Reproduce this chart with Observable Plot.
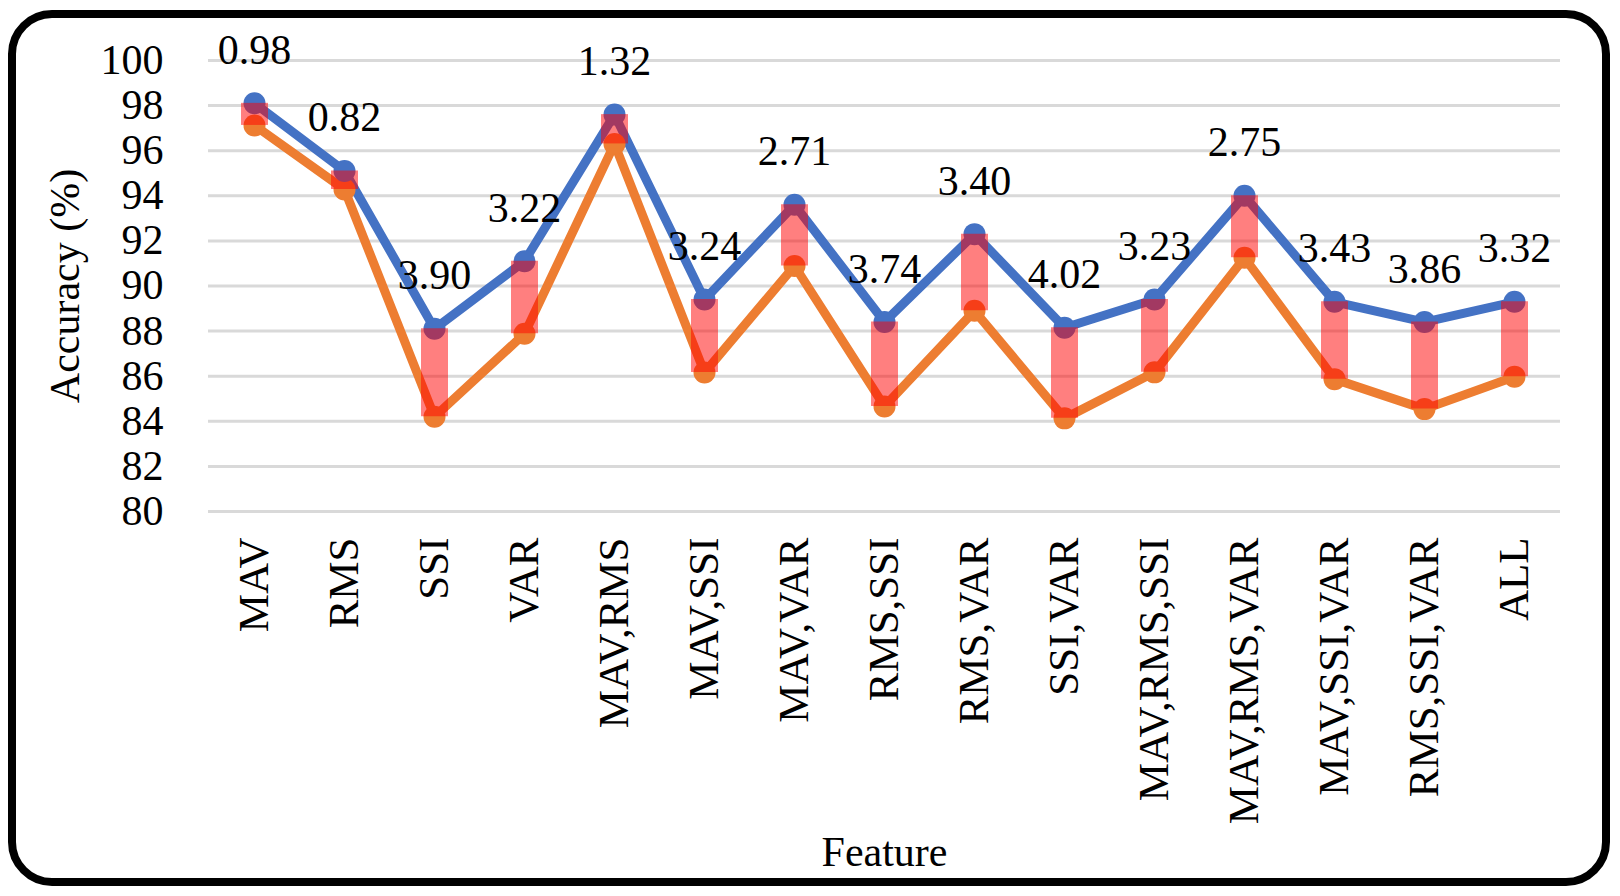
<!DOCTYPE html>
<html>
<head>
<meta charset="utf-8">
<script src="https://cdn.jsdelivr.net/npm/d3@7"></script>
<script src="https://cdn.jsdelivr.net/npm/@observablehq/plot@0.6"></script>
<style>
  html, body { margin: 0; padding: 0; background: #ffffff; }
  #wrap { position: relative; width: 1620px; height: 896px; overflow: hidden; }
  #chart { position: absolute; left: 0; top: 0; }
  #frame {
    position: absolute; left: 8px; top: 10px; width: 1586px; height: 860px;
    border: 8px solid #000; border-radius: 44px; pointer-events: none;
  }
</style>
</head>
<body>
<div id="wrap"><div id="chart"></div><div id="frame"></div></div>
<script>
const features = ["MAV","RMS","SSI","VAR","MAV,RMS","MAV,SSI","MAV,VAR","RMS,SSI","RMS,VAR","SSI,VAR","MAV,RMS,SSI","MAV,RMS,VAR","MAV,SSI,VAR","RMS,SSI,VAR","ALL"];
const upper = [98.1, 95.1, 88.1, 91.1, 97.6, 89.4, 93.6, 88.4, 92.3, 88.15, 89.4, 94.0, 89.3, 88.4, 89.3];
const lower = [97.12, 94.28, 84.2, 87.88, 96.3, 86.16, 90.89, 84.66, 88.9, 84.13, 86.17, 91.25, 85.87, 84.54, 85.98];
const gaps = ["0.98","0.82","3.90","3.22","1.32","3.24","2.71","3.74","3.40","4.02","3.23","2.75","3.43","3.86","3.32"];
const yTicks = [80, 82, 84, 86, 88, 90, 92, 94, 96, 98, 100];

const rows = features.map((f, i) => ({f, upper: upper[i], lower: lower[i], gap: gaps[i]}));
const font = "'Liberation Serif', 'Times New Roman', serif";

const chart = Plot.plot({
  width: 1620, height: 896,
  marginLeft: 208, marginRight: 60, marginTop: 60, marginBottom: 385,
  style: {fontFamily: font, color: "#000", background: "transparent", overflow: "visible"},
  x: {type: "point", domain: features, padding: 0.5, label: null},
  y: {domain: [80, 100], label: null},
  marks: [
    Plot.gridY(yTicks, {stroke: "#D9D9D9", strokeWidth: 3, strokeOpacity: 1}),
    Plot.axisY(yTicks, {tickSize: 0, tickPadding: 45, fontSize: 42, label: null, fill: "#000"}),
    Plot.axisX({tickSize: 0, tickRotate: -90, tickPadding: 26, fontSize: 43, label: null, fill: "#000"}),
    Plot.line(rows, {x: "f", y: "lower", stroke: "#ED7D31", strokeWidth: 9}),
    Plot.line(rows, {x: "f", y: "upper", stroke: "#4472C4", strokeWidth: 9}),
    Plot.dot(rows, {x: "f", y: "lower", r: 11, fill: "#ED7D31"}),
    Plot.dot(rows, {x: "f", y: "upper", r: 11, fill: "#4472C4"}),
    Plot.ruleX(rows, {x: "f", y1: "lower", y2: "upper", stroke: "#FF0000", strokeOpacity: 0.5, strokeWidth: 27}),
    Plot.text(rows, {x: "f", y: "upper", text: "gap", dy: -53, fontSize: 42, fill: "#000"}),
    Plot.text(["Accuracy (%)"], {frameAnchor: "left", textAnchor: "middle", lineAnchor: "middle", dx: -143, rotate: -90, fontSize: 42, fill: "#000"}),
    Plot.text(["Feature"], {frameAnchor: "bottom", textAnchor: "middle", lineAnchor: "middle", dy: 341, fontSize: 42, fill: "#000"})
  ]
});
document.getElementById("chart").appendChild(chart);
</script>
</body>
</html>
